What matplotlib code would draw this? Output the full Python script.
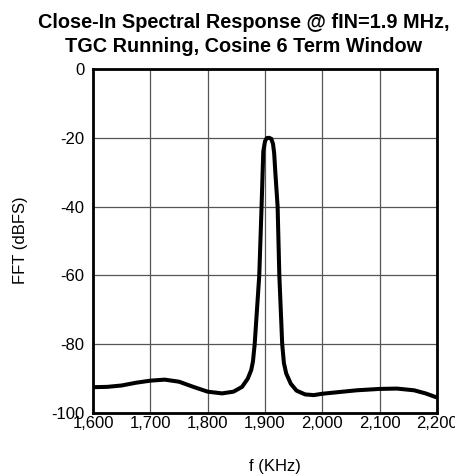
import matplotlib
matplotlib.use("Agg")
import matplotlib.pyplot as plt
from matplotlib.ticker import FuncFormatter

plt.rcParams['font.family'] = ['Liberation Sans', 'DejaVu Sans']
plt.rcParams['axes.unicode_minus'] = False

# Datos
freq_khz = [1600, 1625, 1650, 1675, 1700, 1725, 1750, 1775, 1800, 1825, 1845, 1860,
            1870, 1876, 1879, 1882, 1890, 1894, 1897, 1900, 1903, 1907, 1911, 1914, 1916,
            1918, 1922, 1925, 1930, 1933, 1937, 1945, 1955, 1970, 1985, 2000,
            2030, 2060, 2100, 2130, 2160, 2180, 2200]
fft_dbfs = [-92.5, -92.4, -92.0, -91.2, -90.6, -90.3, -90.9, -92.4, -93.8, -94.3, -93.8, -92.4,
            -90.0, -87.5, -85.0, -80.0, -60.0, -40.0, -24.0, -21.0, -20.1, -20.0, -20.3, -21.8, -24.5,
            -30.0, -40.0, -60.0, -80.0, -85.5, -88.5, -91.5, -93.5, -94.6, -94.8, -94.4,
            -93.9, -93.4, -93.0, -92.9, -93.4, -94.3, -95.5]

xticks = [1600, 1700, 1800, 1900, 2000, 2100, 2200]
yticks = [0, -20, -40, -60, -80, -100]

fig = plt.figure(figsize=(4.56, 4.76), dpi=100)
ax = fig.add_axes([93/456, 1 - 413/476, 344/456, 344/476])

ax.plot(freq_khz, fft_dbfs, color="black", linewidth=2.9, solid_joinstyle="round",
        solid_capstyle="butt")

ax.set_xlim(1600, 2200)
ax.set_ylim(-100, 0)
ax.set_xticks(xticks)
ax.set_yticks(yticks)
ax.xaxis.set_major_formatter(FuncFormatter(lambda v, p: f"{int(v):,}"))
ax.grid(True, color="#555555", linewidth=0.9)
ax.tick_params(axis="x", length=0, labelsize=12, pad=2)
ax.tick_params(axis="y", length=0, labelsize=12, pad=6)
for s in ax.spines.values():
    s.set_linewidth(2)

fig.text(21/456, 1 - 240/476, "FFT (dBFS)", rotation=90,
         ha="center", va="center", fontsize=12)
fig.text(275/456, 1 - 466/476, "f (KHz)", ha="center", va="center", fontsize=12)
fig.text(244/456, 1 - 34.5/476, "Close-In Spectral Response @ fIN=1.9 MHz,\nTGC Running, Cosine 6 Term Window",
         ha="center", va="center", fontsize=14.3, fontweight="bold", linespacing=1.35)

fig.savefig("out.png", dpi=100)
